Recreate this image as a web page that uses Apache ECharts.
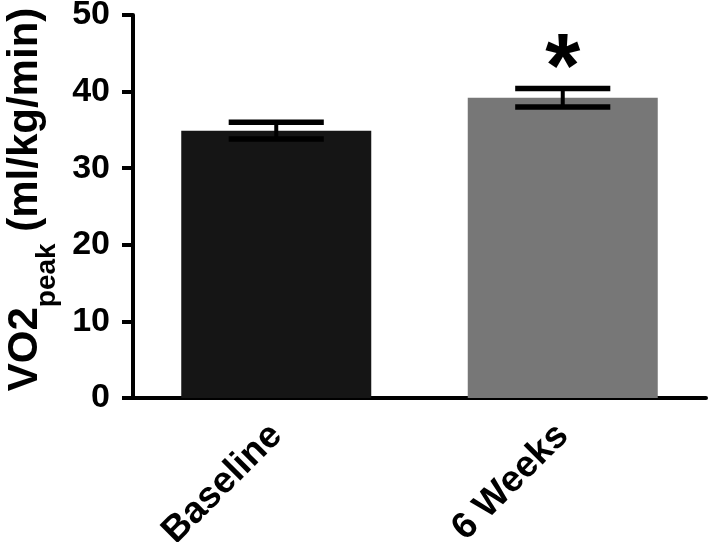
<!DOCTYPE html>
<html>
<head>
<meta charset="utf-8">
<script src="https://cdn.jsdelivr.net/npm/echarts@6/dist/echarts.min.js"></script>
<style>
  html, body { margin: 0; padding: 0; background: #fff; }
  #chart { width: 709px; height: 542px; }
</style>
</head>
<body>
<div id="chart"></div>
<script>
const categories = ['Baseline', '6 Weeks'];
const means = [34.9, 39.2];
const sem = [1.1, 1.2];
const sig = ['', '*'];

const barColors = ['#151515', '#777777'];
const font = 'Liberation Sans, Arial, sans-serif';

const chart = echarts.init(document.getElementById('chart'));

const errData = means.map((m, i) => [i, m - sem[i], m + sem[i], sig[i]]);

const option = {
  animation: false,
  grid: { left: 133, right: 3, top: 15, bottom: 144, containLabel: false, outerBoundsMode: 'none' },
  xAxis: {
    type: 'category',
    data: categories,
    axisLine: { lineStyle: { color: '#000', width: 4 } },
    axisTick: { alignWithLabel: true, length: 11, lineStyle: { color: '#000', width: 4 } },
    axisLabel: {
      rotate: 45,
      margin: 32,
      color: '#000',
      fontSize: 37,
      fontWeight: 'bold',
      fontFamily: font,
    },
  },
  yAxis: {
    type: 'value',
    min: 0,
    max: 50,
    interval: 10,
    splitLine: { show: false },
    axisLine: { show: true, lineStyle: { color: '#000', width: 4 } },
    axisTick: { show: true, length: 11, lineStyle: { color: '#000', width: 4 } },
    axisLabel: {
      margin: 23,
      color: '#000',
      fontSize: 34,
      fontWeight: 'bold',
      fontFamily: font,
    },
    name: '{m|VO2}{s|peak}{m| (ml/kg/min)}',
    nameLocation: 'middle',
    nameRotate: 90,
    nameGap: 80,
    nameTextStyle: {
      padding: [0, 0, 0, 14],
      rich: {
        m: { fontSize: 42, fontWeight: 'bold', fontFamily: font, color: '#000', verticalAlign: 'top', lineHeight: 42 },
        s: { fontSize: 28, fontWeight: 'bold', fontFamily: font, color: '#000', verticalAlign: 'top', padding: [29, 0, 0, 0], lineHeight: 28 },
      },
    },
  },
  series: [
    {
      type: 'bar',
      barWidth: 190,
      data: means.map((v, i) => ({ value: v, itemStyle: { color: barColors[i] } })),
      z: 1,
    },
    {
      type: 'custom',
      z: 5,
      data: errData,
      renderItem(params, api) {
        const x = api.value(0);
        const lo = api.coord([x, api.value(1)]);
        const hi = api.coord([x, api.value(2)]);
        const half = api.size([1, 0])[0] * 0.166;
        const line = (x1, y1, x2, y2, w) => ({
          type: 'line',
          shape: { x1, y1, x2, y2 },
          style: { stroke: '#000', lineWidth: w },
        });
        const children = [
          line(hi[0], hi[1], lo[0], lo[1], 4),
          line(hi[0] - half, hi[1], hi[0] + half, hi[1], 5.5),
          line(lo[0] - half, lo[1], lo[0] + half, lo[1], 5.5),
        ];
        const mark = api.value(3);
        if (mark) {
          children.push({
            type: 'text',
            style: {
              text: mark,
              x: hi[0],
              y: hi[1] - 16,
              align: 'center',
              verticalAlign: 'middle',
              fontSize: 90,
              fontWeight: 'bold',
              fontFamily: font,
              fill: '#000',
            },
          });
        }
        return { type: 'group', children };
      },
    },
  ],
};

chart.setOption(option);
</script>
</body>
</html>
